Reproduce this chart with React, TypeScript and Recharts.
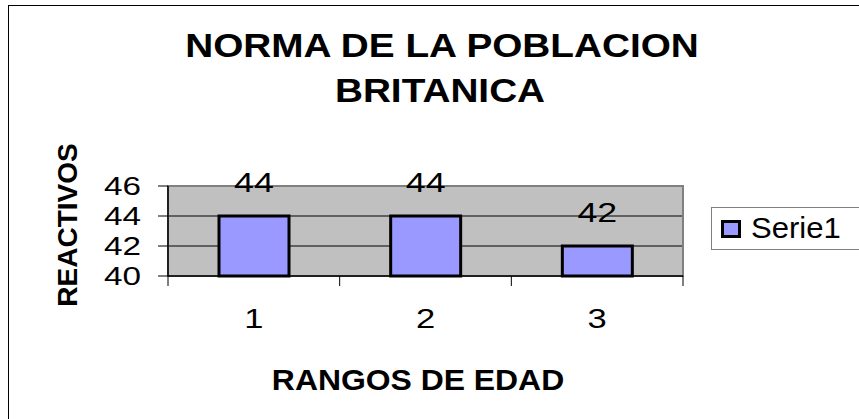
import {
  Bar,
  BarChart,
  CartesianGrid,
  LabelList,
  Legend,
  ReferenceArea,
  XAxis,
  YAxis,
} from "recharts";

const categories = ["1", "2", "3"];
const serie1 = [44, 44, 42];
const yTicks = [40, 42, 44, 46];

const data = categories.map((rango, i) => ({ rango, Serie1: serie1[i] }));

const FONT = '"Liberation Sans", Arial, sans-serif';
// the original picture is stretched sideways, digits most of all
const DIGIT_STRETCH = 1.28;

function YTick({ x, y, payload }: any) {
  return (
    <text
      transform={`translate(${x},${y + 9.3}) scale(${DIGIT_STRETCH},1)`}
      textAnchor="end"
      fontSize={26}
      fontFamily={FONT}
      fill="#000"
    >
      {payload.value}
    </text>
  );
}

/** Category label in the middle, tick marks on the band edges. */
function XTick({ x, y, payload, index, visibleTicksCount }: any) {
  const axisY = y - 10;
  const half = payload.offset ?? 0;
  return (
    <g>
      <line x1={x - half} x2={x - half} y1={axisY} y2={axisY + 10} stroke="#000" />
      {index === visibleTicksCount - 1 && (
        <line x1={x + half} x2={x + half} y1={axisY} y2={axisY + 10} stroke="#000" />
      )}
      <text
        transform={`translate(${x},${axisY + 52}) scale(${DIGIT_STRETCH},1)`}
        textAnchor="middle"
        fontSize={27}
        fontFamily={FONT}
        fill="#000"
      >
        {payload.value}
      </text>
    </g>
  );
}

function BarValue({ x, y, width, value }: any) {
  const cx = Number(x) + Number(width) / 2;
  return (
    <text
      transform={`translate(${cx},${Number(y) - 24}) scale(${DIGIT_STRETCH},1)`}
      textAnchor="middle"
      fontSize={28}
      fontFamily={FONT}
      fill="#000"
    >
      {value}
    </text>
  );
}

function LegendBox() {
  return (
    <div
      style={{
        boxSizing: "border-box",
        width: 170,
        height: 43,
        border: "1.5px solid #808080",
        display: "flex",
        alignItems: "center",
        fontFamily: FONT,
        fontSize: 29,
        color: "#000",
        background: "#fff",
      }}
    >
      <span
        style={{
          boxSizing: "border-box",
          width: 20,
          height: 18,
          marginLeft: 8.5,
          border: "3px solid #000",
          background: "#9999FF",
          flex: "none",
        }}
      />
      <span
        style={{
          marginLeft: 10.5,
          display: "inline-block",
          transform: "scaleX(1.07)",
          transformOrigin: "left center",
        }}
      >
        Serie1
      </span>
    </div>
  );
}

export default function App() {
  return (
    <div
      style={{
        position: "absolute",
        left: 0,
        top: 0,
        width: 859,
        height: 419,
        overflow: "hidden",
        background: "#fff",
      }}
    >
      <BarChart
        width={859}
        height={419}
        data={data}
        margin={{ top: 186, right: 176, bottom: 103, left: 108 }}
      >
        <CartesianGrid vertical={false} fill="#C0C0C0" fillOpacity={1} stroke="#000" />
        <ReferenceArea y1={40} y2={46} fill="none" stroke="#808080" strokeWidth={2} />
        <XAxis
          dataKey="rango"
          interval={0}
          height={40}
          tickLine={false}
          tickSize={10}
          tickMargin={0}
          axisLine={{ stroke: "#000", strokeWidth: 1.5 }}
          tick={<XTick />}
        />
        <YAxis
          domain={[40, 46]}
          ticks={yTicks}
          interval={0}
          width={60}
          tickSize={10}
          tickMargin={17}
          axisLine={{ stroke: "#000", strokeWidth: 1.5 }}
          tickLine={{ stroke: "#000" }}
          tick={<YTick />}
        />
        <Legend
          layout="vertical"
          align="center"
          verticalAlign="middle"
          wrapperStyle={{ left: 711, top: 207, width: 170, height: 43 }}
          content={() => <LegendBox />}
        />
        <Bar
          dataKey="Serie1"
          fill="#9999FF"
          stroke="#000"
          strokeWidth={3}
          barSize={70}
          isAnimationActive={false}
        >
          <LabelList dataKey="Serie1" content={<BarValue />} />
        </Bar>
      </BarChart>

      <svg
        width={859}
        height={419}
        style={{ position: "absolute", left: 0, top: 0, pointerEvents: "none" }}
      >
        <rect x={8.5} y={5.5} width={1000} height={1000} fill="none" stroke="#000" />
        <g fontFamily={FONT} fontWeight="bold" fill="#000" textAnchor="middle">
          <text transform="translate(442,57) scale(1.14,1)" fontSize={34}>
            NORMA DE LA POBLACION
          </text>
          <text transform="translate(440,102) scale(1.14,1)" fontSize={34}>
            BRITANICA
          </text>
          <text transform="translate(418,390) scale(1.1,1)" fontSize={29}>
            RANGOS DE EDAD
          </text>
          <text transform="translate(77,225) rotate(-90)" fontSize={28}>
            REACTIVOS
          </text>
        </g>
      </svg>
    </div>
  );
}
